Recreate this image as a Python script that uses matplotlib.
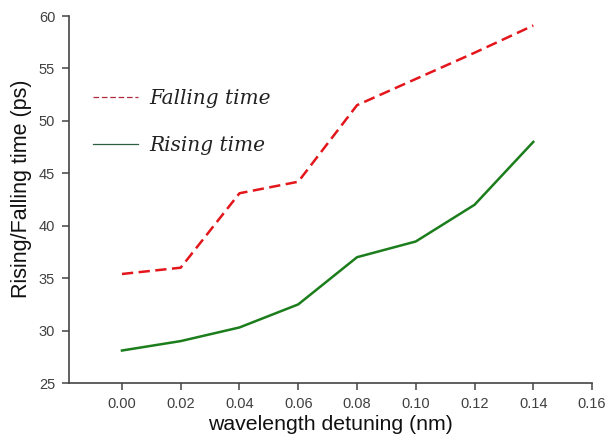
import matplotlib.pyplot as plt

# detuning values and measured times
detuning = [0.00, 0.02, 0.04, 0.06, 0.08, 0.10, 0.12, 0.14]
falling = [35.4, 36.0, 43.1, 44.2, 51.5, 54.0, 56.5, 59.1]
rising = [28.1, 29.0, 30.3, 32.5, 37.0, 38.5, 42.0, 48.0]
xticks = [0.00, 0.02, 0.04, 0.06, 0.08, 0.10, 0.12, 0.14, 0.16]
yticks = [25, 30, 35, 40, 45, 50, 55, 60]

plt.rcParams['font.family'] = ['Liberation Sans', 'DejaVu Sans']

fig = plt.figure(figsize=(6.06, 4.4), dpi=100)
ax = fig.add_axes([0.114, 0.1295, 0.863, 0.834])

ax.plot(detuning, falling, color='#e3161c', lw=1.8, dashes=(4.5, 2.2),
        label='Falling time')
ax.plot(detuning, rising, color='#1b7d1b', lw=1.8, label='Rising time')

ax.set_xlim(-0.018, 0.16)
ax.set_ylim(25, 60)
ax.set_xticks(xticks)
ax.set_xticklabels([f'{v:.2f}' for v in xticks])
ax.set_yticks(yticks)

for side in ('top', 'right'):
    ax.spines[side].set_visible(False)
for side in ('left', 'bottom'):
    ax.spines[side].set_color('#444444')
    ax.spines[side].set_linewidth(1.2)
ax.tick_params(direction='out', length=5, width=1.1, color='#444444',
               labelsize=10.5, labelcolor='#404040', pad=5)

ax.set_xlabel('wavelength detuning (nm)', fontsize=15.3, color='#111111', labelpad=3)
ax.set_ylabel('Rising/Falling time (ps)', fontsize=15.5, color='#111111')
ax.yaxis.set_label_coords(-0.07, 0.53)

# legend: thin handles, serif italic text
leg = ax.legend(loc='upper left', bbox_to_anchor=(0.012, 0.85), frameon=False,
                handlelength=2.2, handletextpad=0.55, labelspacing=1.4,
                prop={'family': 'DejaVu Serif', 'style': 'italic', 'size': 14.5})
handle_colors = ['#b02a3a', '#2e5e40']
for line, c in zip(leg.get_lines(), handle_colors):
    line.set_linewidth(0.9)
    line.set_color(c)
for t in leg.get_texts():
    t.set_color('#222222')

fig.savefig('out.png', dpi=100, facecolor='white')
